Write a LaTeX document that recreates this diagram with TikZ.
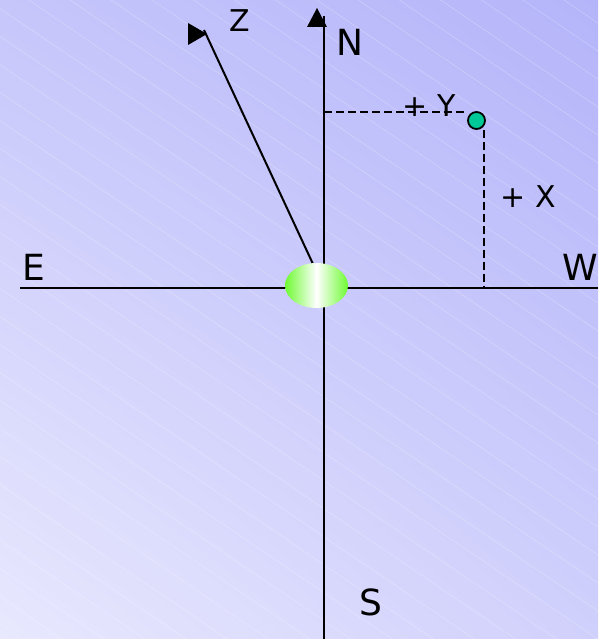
\documentclass[tikz,border=0pt]{standalone}
\usepackage{fontspec}
\setmainfont{DejaVu Sans}
\usetikzlibrary{shapes.geometric,shadings}
\definecolor{bgul}{RGB}{198,198,251}
\definecolor{bgur}{RGB}{180,180,250}
\definecolor{bgll}{RGB}{232,232,254}
\definecolor{bglr}{RGB}{208,208,252}
\definecolor{eggreen}{RGB}{110,250,50}
\definecolor{pointc}{RGB}{0,200,150}
\begin{document}
\begin{tikzpicture}[x=1pt,y=-1pt,
  axisline/.style={line width=2pt},
  dashline/.style={line width=1.8pt, dash pattern=on 8pt off 4pt},
  biglbl/.style={font=\fontsize{36}{36}\selectfont, inner sep=0pt},
  smalllbl/.style={font=\fontsize{30}{30}\selectfont, inner sep=0pt},
  hatch/.style={white, opacity=0.25, line width=0.6pt}]
\useasboundingbox (0,0) rectangle (598,639);
\shade[upper left=bgul, upper right=bgur, lower left=bgll, lower right=bglr] (0,0) rectangle (598,639);
\begin{scope}
\clip (0,0) rectangle (598,639);
\foreach \i in {-15,...,23} \draw[hatch] (0,{8.5+28*\i}) -- (598,{415.1+28*\i});
\end{scope}
% axes
\coordinate (Eend) at (20,288);
\coordinate (Wend) at (598,288);
\coordinate (Sbot) at (324,639);
\coordinate (Ntop) at (324,16);
\draw[axisline] (Eend) -- (Wend);
\draw[axisline] (Sbot) -- (Ntop);
\fill (307,27) -- (327,27) -- (317,8) -- cycle;
% Z axis
\coordinate (Zs) at (204,30);
\coordinate (Ze) at (313,264);
\draw[axisline] (Ze) -- (Zs);
\fill (188,23) -- (188,45) -- (207,34) -- cycle;
% point and projections
\node[circle, draw, line width=1.8pt, fill=pointc, minimum size=17pt, inner sep=0pt] (P) at (476.5,120.5) {};
\coordinate (Yax) at (324,112.3);
\coordinate (Xax) at (484.3,288);
\draw[dashline] (Yax) -- (Yax -| P.west);
\draw[dashline] (Xax |- P.south) -- (Xax);
% origin body
\node[ellipse, minimum width=63pt, minimum height=45pt, inner sep=0pt,
  left color=eggreen, right color=eggreen, middle color=white] (egg) at (316.5,285.5) {};
% labels
\node[biglbl] (N) at (350,42) {N};
\node[biglbl] (E) at (34,267) {E};
\node[biglbl] (W) at (580,267) {W};
\node[biglbl] (S) at (371,602) {S};
\node[smalllbl] (Z) at (239.5,20.5) {Z};
\node[smalllbl] (Ylbl) at (429,106) {+ Y};
\node[smalllbl] (Xlbl) at (528,197) {+ X};
\end{tikzpicture}
\end{document}
